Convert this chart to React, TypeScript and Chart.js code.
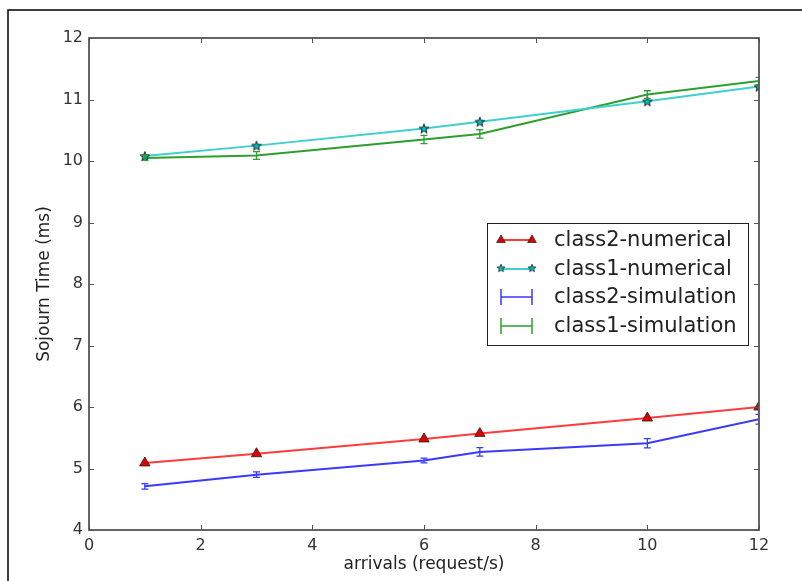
import React, { useEffect, useRef } from "react";
import { Chart, registerables } from "chart.js";
Chart.register(...registerables);

// ---- data ----
const arrivals = [1, 3, 6, 7, 10, 12];
const class2Numerical = [5.09, 5.24, 5.48, 5.57, 5.82, 6.0];
const class1Numerical = [10.08, 10.25, 10.53, 10.64, 10.97, 11.21];
const class2Simulation = [4.71, 4.9, 5.13, 5.27, 5.41, 5.8];
const class2SimError = [0.045, 0.045, 0.04, 0.07, 0.075, 0.08];
const class1Simulation = [10.05, 10.09, 10.35, 10.44, 11.08, 11.3];
const class1SimError = [0.04, 0.062, 0.068, 0.068, 0.062, 0.06];
const xTickValues = [0, 2, 4, 6, 8, 10, 12];
const yTickValues = [4, 5, 6, 7, 8, 9, 10, 11, 12];
const legendLabels = [
  "class2-numerical",
  "class1-numerical",
  "class2-simulation",
  "class1-simulation",
];

const RED = "#ff3b3b";
const CYAN = "#3fcfcf";
const BLUE = "#3a3aff";
const GREEN = "#2e9e2e";
const FONT = "'DejaVu Sans', sans-serif";

function makeStar(size: number, fill: string, stroke: string) {
  const c = document.createElement("canvas");
  c.width = size;
  c.height = size;
  const ctx = c.getContext("2d")!;
  const cx = size / 2;
  const cy = size / 2 + 0.5;
  const R = size / 2 - 1;
  const r = R * 0.42;
  ctx.beginPath();
  for (let k = 0; k < 10; k++) {
    const ang = -Math.PI / 2 + (k * Math.PI) / 5;
    const rad = k % 2 === 0 ? R : r;
    ctx.lineTo(cx + rad * Math.cos(ang), cy + rad * Math.sin(ang));
  }
  ctx.closePath();
  ctx.fillStyle = fill;
  ctx.fill();
  ctx.lineWidth = 0.9;
  ctx.strokeStyle = stroke;
  ctx.stroke();
  return c;
}

function pts(ys: number[]) {
  return arrivals.map((x, i) => ({ x, y: ys[i] }));
}

export default function App() {
  const ref = useRef<HTMLCanvasElement>(null);

  useEffect(() => {
    document.body.style.margin = "0";
    const star = makeStar(12, "#00bfbf", "#111");

    const errorSets = [
      { values: class2Simulation, errors: class2SimError, color: BLUE },
      { values: class1Simulation, errors: class1SimError, color: GREEN },
    ];

    const plugin = {
      id: "mplStyle",
      beforeDraw(chart: any) {
        const ctx = chart.ctx;
        ctx.save();
        ctx.fillStyle = "#fff";
        ctx.fillRect(0, 0, chart.width, chart.height);
        ctx.strokeStyle = "#000";
        ctx.lineWidth = 1.5;
        ctx.beginPath();
        ctx.moveTo(8, chart.height);
        ctx.lineTo(8, 10);
        ctx.lineTo(chart.width, 10);
        ctx.stroke();
        ctx.restore();
      },
      afterDatasetsDraw(chart: any) {
        const ctx = chart.ctx;
        const xs = chart.scales.x;
        const ys = chart.scales.y;
        const a = chart.chartArea;
        ctx.save();
        ctx.beginPath();
        ctx.rect(a.left, a.top, a.right - a.left, a.bottom - a.top);
        ctx.clip();
        errorSets.forEach((s) => {
          ctx.strokeStyle = s.color;
          ctx.lineWidth = 1.3;
          arrivals.forEach((xv, i) => {
            const px = xs.getPixelForValue(xv);
            const y1 = ys.getPixelForValue(s.values[i] + s.errors[i]);
            const y2 = ys.getPixelForValue(s.values[i] - s.errors[i]);
            ctx.beginPath();
            ctx.moveTo(px, y1);
            ctx.lineTo(px, y2);
            ctx.moveTo(px - 3.5, y1);
            ctx.lineTo(px + 3.5, y1);
            ctx.moveTo(px - 3.5, y2);
            ctx.lineTo(px + 3.5, y2);
            ctx.stroke();
          });
        });
        ctx.restore();
      },
      afterDraw(chart: any) {
        const ctx = chart.ctx;
        const xs = chart.scales.x;
        const ys = chart.scales.y;
        const a = chart.chartArea;
        ctx.save();
        // axes box
        ctx.strokeStyle = "#555";
        ctx.lineWidth = 1.8;
        ctx.strokeRect(a.left, a.top, a.right - a.left, a.bottom - a.top);
        // inward ticks
        ctx.lineWidth = 1;
        ctx.beginPath();
        xTickValues.forEach((v) => {
          const px = Math.round(xs.getPixelForValue(v)) + 0.5;
          ctx.moveTo(px, a.bottom);
          ctx.lineTo(px, a.bottom - 5);
          ctx.moveTo(px, a.top);
          ctx.lineTo(px, a.top + 5);
        });
        yTickValues.forEach((v) => {
          const py = Math.round(ys.getPixelForValue(v)) + 0.5;
          ctx.moveTo(a.left, py);
          ctx.lineTo(a.left + 5, py);
          ctx.moveTo(a.right, py);
          ctx.lineTo(a.right - 5, py);
        });
        ctx.stroke();

        // legend
        const bw = 261;
        const bh = 122;
        const bx = a.right - 11 - bw;
        const by = a.top + 185;
        ctx.fillStyle = "#fff";
        ctx.fillRect(bx, by, bw, bh);
        ctx.strokeStyle = "#222";
        ctx.lineWidth = 1;
        ctx.strokeRect(bx + 0.5, by + 0.5, bw, bh);
        const rowY = [by + 17, by + 46, by + 74, by + 103];
        const lx1 = bx + 14;
        const lx2 = bx + 45;
        ctx.font = `21px ${FONT}`;
        ctx.textBaseline = "middle";
        ctx.textAlign = "left";
        rowY.forEach((y, i) => {
          if (i === 0 || i === 1) {
            ctx.strokeStyle = i === 0 ? RED : CYAN;
            ctx.lineWidth = 2;
            ctx.beginPath();
            ctx.moveTo(lx1, y);
            ctx.lineTo(lx2, y);
            ctx.stroke();
            [lx1, lx2].forEach((mx) => {
              if (i === 0) {
                const r = 5;
                ctx.beginPath();
                ctx.moveTo(mx, y - r);
                ctx.lineTo(mx + r * 0.866, y + r * 0.5);
                ctx.lineTo(mx - r * 0.866, y + r * 0.5);
                ctx.closePath();
                ctx.fillStyle = "#e00000";
                ctx.fill();
                ctx.strokeStyle = "#222";
                ctx.lineWidth = 0.8;
                ctx.stroke();
              } else {
                ctx.drawImage(star, mx - 5, y - 6, 10, 10);
              }
            });
          } else {
            ctx.strokeStyle = i === 2 ? BLUE : GREEN;
            ctx.lineWidth = 1.5;
            ctx.beginPath();
            ctx.moveTo(lx1, y);
            ctx.lineTo(lx2, y);
            ctx.moveTo(lx1, y - 8);
            ctx.lineTo(lx1, y + 8);
            ctx.moveTo(lx2, y - 8);
            ctx.lineTo(lx2, y + 8);
            ctx.stroke();
          }
          ctx.fillStyle = "#222";
          ctx.fillText(legendLabels[i], bx + 67, y + 1);
        });
        ctx.restore();
      },
    };

    const chart = new Chart(ref.current!, {
      type: "line",
      data: {
        datasets: [
          {
            label: legendLabels[0],
            data: pts(class2Numerical),
            borderColor: RED,
            borderWidth: 2,
            backgroundColor: "#e00000",
            pointStyle: "triangle",
            pointRadius: 6,
            pointBorderColor: "#222",
            pointBorderWidth: 0.8,
            pointBackgroundColor: "#e00000",
            clip: 0,
          },
          {
            label: legendLabels[1],
            data: pts(class1Numerical),
            borderColor: CYAN,
            borderWidth: 2,
            pointStyle: star as any,
            pointRadius: 6,
            clip: 0,
          },
          {
            label: legendLabels[2],
            data: pts(class2Simulation),
            borderColor: BLUE,
            borderWidth: 2,
            pointRadius: 0,
            clip: 0,
          },
          {
            label: legendLabels[3],
            data: pts(class1Simulation),
            borderColor: GREEN,
            borderWidth: 2,
            pointRadius: 0,
            clip: 0,
          },
        ],
      },
      options: {
        responsive: false,
        animation: false,
        layout: { padding: { left: 30, right: 43, top: 38, bottom: 2 } },
        plugins: {
          legend: { display: false },
          tooltip: { enabled: false },
        },
        scales: {
          x: {
            type: "linear",
            min: 0,
            max: 12,
            afterFit: (s: any) => {
              s.height = 49;
            },
            afterBuildTicks: (s: any) => {
              s.ticks = xTickValues.map((v) => ({ value: v }));
            },
            grid: { display: false, drawTicks: false },
            border: { display: false },
            ticks: {
              padding: 6,
              color: "#333",
              font: { family: FONT, size: 16 },
              maxRotation: 0,
            },
            title: {
              display: true,
              text: "arrivals (request/s)",
              color: "#222",
              font: { family: FONT, size: 17 },
              padding: { top: 4, bottom: 4 },
            },
          },
          y: {
            type: "linear",
            min: 4,
            max: 12,
            afterFit: (s: any) => {
              s.width = 59;
            },
            afterBuildTicks: (s: any) => {
              s.ticks = yTickValues.map((v) => ({ value: v }));
            },
            grid: { display: false, drawTicks: false },
            border: { display: false },
            ticks: {
              padding: 6,
              color: "#333",
              font: { family: FONT, size: 16 },
            },
            title: {
              display: true,
              text: "Sojourn Time (ms)",
              color: "#222",
              font: { family: FONT, size: 17 },
              padding: { top: 4, bottom: 4 },
            },
          },
        },
      },
      plugins: [plugin],
    });
    return () => chart.destroy();
  }, []);

  return (
    <canvas
      ref={ref}
      width={802}
      height={581}
      style={{ display: "block", width: 802, height: 581 }}
    />
  );
}
